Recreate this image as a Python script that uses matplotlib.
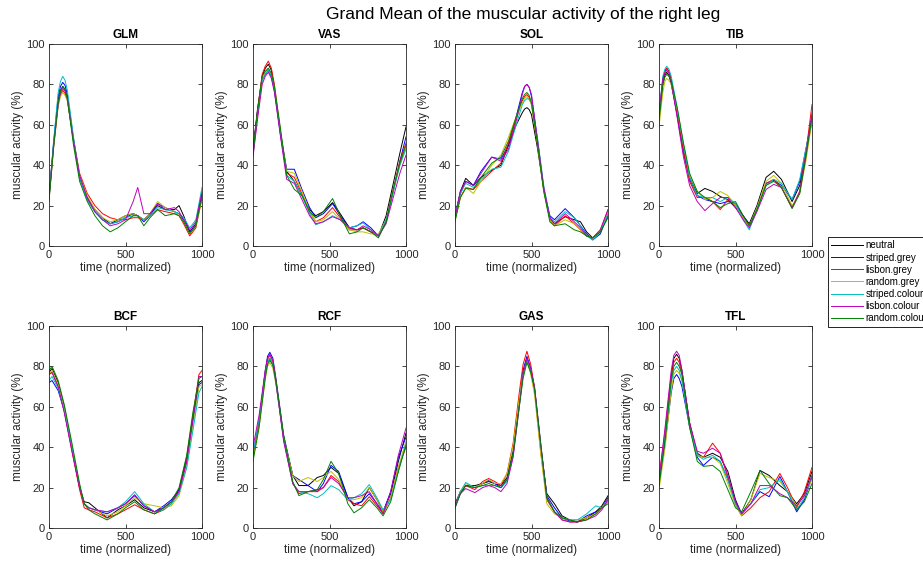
import matplotlib
matplotlib.use("Agg")
import matplotlib.pyplot as plt

plt.rcParams['font.family'] = ['Liberation Sans', 'DejaVu Sans']

## Conditions & colours ---------------------------------------------
conditions = ["neutral", "striped.grey", "lisbon.grey", "random.grey",
              "striped.colour", "lisbon.colour", "random.colour"]
colours = ["k", "b", "r", "y", "c", "m", "g"]

## Data, one row per condition --------------------------------------
glm_x = [0, 30, 60, 75, 90, 105, 120, 160, 200, 250, 300, 350, 400, 450, 500, 550, 580, 620, 660, 710, 760, 820, 850, 880, 920, 960, 1000]
glm = [
    [24, 50, 72, 77, 79, 77.5, 73, 52, 34, 24, 18, 14, 11, 13, 15, 16, 15, 13, 16, 20, 18, 18, 20, 15, 7, 11, 25],
    [24, 51, 74, 79, 81, 79.5, 75, 53, 34, 23, 17, 13, 11, 12, 14, 16, 15, 12, 15, 21, 19, 17, 16, 13, 7, 10, 26],
    [25, 50, 70, 75, 77, 75.5, 72, 53, 36, 26, 20, 16, 14, 13, 13, 14, 14, 13, 15, 18, 17, 16, 15, 11, 5, 9, 24],
    [23, 48, 69, 74, 76, 74.5, 72, 52, 35, 25, 18, 14, 12, 13, 15, 16, 15, 13, 16, 22, 19, 17, 15, 12, 6, 10, 23],
    [24, 52, 76, 81.5, 84, 82, 77, 54, 34, 23, 17, 13, 11, 12, 14, 15, 15, 13, 15, 19, 18, 17, 16, 14, 9, 13, 29],
    [23, 49, 70, 76, 78, 76.5, 73, 52, 35, 24, 17, 13, 10, 11, 13, 22, 29, 16, 16, 21, 18, 19, 17, 13, 8, 12, 27],
    [22, 49, 71, 77, 79, 77.5, 73, 50, 32, 22, 15, 10, 7, 9, 12, 15, 15, 10, 14, 18, 15, 16, 15, 12, 6, 10, 24],
]

vas_x = [0, 30, 60, 80, 100, 120, 140, 180, 220, 270, 320, 370, 410, 460, 520, 570, 630, 680, 720, 770, 820, 870, 920, 960, 1000]
vas = [
    [48, 68, 84, 88, 90, 87, 78, 55, 37, 32, 25, 18, 15, 17, 21.5, 16, 9, 8, 9, 7, 5, 15, 32, 46, 59],
    [47, 67, 82, 85, 87, 84, 77, 56, 38, 38, 28, 19, 14, 16, 21, 15, 9, 10, 12, 9, 5, 12, 28, 42, 54],
    [46, 67, 85, 89, 91.5, 88, 80, 56, 36, 34, 26, 17, 12, 14, 19, 14, 8, 8, 9, 7, 5, 13, 29, 42, 51],
    [45, 65, 82, 86, 88, 85, 78, 56, 37, 36, 27, 17, 12, 13, 17, 13, 8, 7, 7, 6, 6, 13, 28, 40, 49],
    [45, 65, 82, 85, 87, 84, 77, 55, 35, 32, 25, 16, 10.5, 12, 15, 13, 9, 10, 11.5, 8, 5, 13, 28, 40, 48],
    [44, 63, 80, 84, 86, 83, 76, 54, 33, 31, 23, 15, 11, 12, 14.5, 13, 9, 8, 10, 8, 5, 11, 25, 36, 45],
    [46, 67, 84, 86.5, 88, 85.5, 79, 58, 35, 28, 25, 17, 14, 17, 23.5, 15, 6, 7, 9, 7, 4, 12, 29, 41, 50],
]

sol_x = [0, 35, 70, 120, 170, 240, 300, 350, 400, 440, 455, 470, 485, 500, 540, 580, 620, 650, 720, 780, 820, 860, 900, 950, 1000]
sol = [
    [15, 27, 33.5, 30, 34, 37.5, 40, 50, 60, 66, 67.8, 68.5, 67.5, 65, 48, 28, 14, 11, 14.5, 13, 12, 7, 4, 7, 15],
    [14, 26, 32, 30, 37, 44, 43, 50, 64, 76, 79, 80, 78.5, 74, 52, 28, 15, 13, 18.5, 14, 10, 6, 3, 6, 16],
    [13, 24, 29, 28, 32, 37, 41, 51, 63, 72, 74, 75, 73.5, 70, 50, 28, 13, 10, 15, 11, 8, 5, 4, 8, 18],
    [13, 24, 29, 26, 32, 40, 45, 54, 64, 71, 73, 74, 72.5, 70, 50, 27, 13, 10, 13, 11, 8, 5, 4, 8, 16],
    [15, 26, 31, 29, 33, 38, 39, 47, 60, 70, 72, 73, 72.5, 71, 53, 30, 14, 12, 17, 14, 10, 5, 3, 7, 16],
    [14, 27, 32, 30, 36, 44, 42, 48, 62, 75, 79, 80, 78.5, 75, 52, 29, 14, 11, 16, 12, 9, 5, 4, 8, 18],
    [12, 24, 28.5, 28, 34, 41, 44, 52, 64, 73, 75, 76, 74.5, 71, 50, 27, 12, 10, 11, 8, 7, 5, 4, 7, 14],
]

tib_x = [0, 25, 38, 50, 65, 80, 120, 160, 200, 250, 300, 350, 400, 450, 500, 550, 590, 640, 700, 750, 800, 870, 920, 960, 1000]
tib = [
    [63, 80, 84.5, 86, 84.5, 80, 65, 48, 34, 26, 28.5, 27, 24.5, 23, 19, 15, 11, 20, 34, 37, 33, 22, 30, 45, 62],
    [64, 82, 86.5, 88, 86.5, 82, 64, 46, 33, 25, 23, 22, 21, 22, 21, 15, 10, 19, 31, 32.5, 30, 23, 32, 48, 64],
    [65, 82, 86.5, 88, 86.5, 82, 65, 47, 32, 24, 24, 22, 18, 23, 20, 14, 10, 18, 31, 33, 29, 19, 27, 46, 70],
    [59, 76, 81.5, 83, 82, 80, 67, 50, 35, 27, 23, 24, 27, 25, 20, 14, 10, 19, 32, 35, 31, 20, 26, 42, 62],
    [65, 84, 87.5, 89, 87.5, 84, 68, 50, 34, 25, 24, 24, 22, 24, 21, 13, 8, 18, 30, 33, 31, 23, 33, 48, 62],
    [66, 83, 85.5, 87, 85.5, 81, 63, 44, 30, 22, 17.5, 21, 24, 24, 19, 13, 9, 17, 28, 30.5, 29, 19, 27, 45, 66],
    [62, 80, 83.5, 85, 84, 82, 68, 51, 36, 27, 24, 22, 19, 21, 22, 15, 10, 18, 30, 32, 29, 18.5, 26, 44, 64],
]

bcf_x = [0, 20, 60, 100, 150, 200, 230, 260, 300, 380, 450, 500, 560, 620, 690, 750, 800, 850, 900, 940, 980, 1000]
bcf = [
    [77, 79, 72, 60, 40, 20, 13, 12.5, 10, 5, 9, 11, 14, 10, 8, 10, 13, 19, 35, 55, 72, 73],
    [72, 73, 68, 58, 39, 20, 12, 10, 9, 7, 10, 12, 16, 11, 8, 11, 14, 19, 33, 52, 71, 72],
    [76, 77, 70, 58, 38, 19, 10, 9, 8, 5, 7, 9, 11.5, 9, 7, 9, 12, 18, 33, 55, 76, 78],
    [76, 78, 71, 59, 40, 21, 12, 10, 9, 6, 8, 11, 15, 12, 11, 10, 11, 16, 30, 50, 70, 71],
    [73, 75, 69, 58, 40, 21, 12, 10, 9, 8, 10, 13, 18, 12, 8, 9, 12, 17, 30, 48, 67, 70],
    [76, 77, 70, 57, 38, 20, 12, 10, 9, 8, 10, 12, 16.5, 11, 8, 10, 13, 18, 33, 54, 75, 75],
    [78, 80, 73, 61, 42, 22, 12, 9, 7, 4, 7, 10, 13, 9, 7, 10, 13, 20, 36, 57, 74, 75],
]

rcf_x = [0, 40, 80, 95, 110, 130, 150, 200, 260, 300, 360, 420, 460, 510, 560, 620, 660, 710, 760, 810, 850, 900, 950, 1000]
rcf = [
    [35, 52, 76, 82, 84, 81, 72, 45, 26, 21, 21, 25, 26, 30, 27, 15, 11, 13, 20, 14, 8, 17, 33, 47],
    [36, 53, 78, 85, 87, 84, 74, 46, 26, 24, 21, 18, 22, 31, 28, 15, 12, 13, 17, 12, 8, 18, 35, 45],
    [35, 52, 77, 83.5, 85.5, 82.5, 73, 44, 22, 17, 18, 18, 20, 26, 23, 14, 12, 11, 15.5, 11, 7, 15, 30, 40],
    [34, 50, 74, 80, 82, 79, 71, 45, 26, 23, 25, 23, 25, 28, 24, 14, 14, 15, 20, 14, 8, 15, 30, 43],
    [37, 54, 77, 82, 84, 81, 72, 44, 22, 18, 17, 15, 17, 21, 19, 14, 15, 17, 21.5, 15, 9, 14, 28, 42],
    [40, 56, 78, 84, 86, 83, 72, 43, 22, 18, 18, 19, 20, 25, 22, 15, 15, 16, 18, 12, 7, 18, 36, 49.5],
    [33, 50, 74, 81, 83, 80.5, 73, 46, 23, 16, 18, 19, 24, 33, 27, 12, 7.5, 10, 14, 10, 6, 13, 28, 41],
]

gas_x = [0, 35, 70, 130, 180, 220, 260, 300, 340, 380, 420, 445, 470, 495, 520, 560, 600, 650, 700, 750, 800, 860, 920, 960, 1000]
gas = [
    [11, 17, 21, 21, 22, 23, 22, 21, 25, 38, 62, 77, 84, 78, 68, 40, 17, 12, 6, 4, 3, 5, 8, 11, 16],
    [12, 18, 21, 20, 22, 23.5, 22, 20, 24, 37, 62, 78, 85, 79, 69, 41, 16, 10, 5, 3.5, 3, 6, 8, 10, 15],
    [11, 18, 21, 19, 23, 24.5, 23, 21, 27, 42, 67, 81, 87.5, 81, 69, 38, 14, 8, 4, 3, 3, 5, 7, 10, 14],
    [10, 18, 22, 20, 22, 24, 22, 22, 27, 41, 64, 76, 83, 76, 66, 37, 12, 7, 5, 4, 4, 5, 7, 10, 14],
    [10, 18, 22.5, 20, 21, 21, 21, 20, 23, 36, 60, 76, 83.5, 78, 69, 41, 15, 8, 5, 4, 4, 7, 11, 10, 13],
    [10, 17, 19.5, 17.5, 20, 21, 20, 18, 22, 35, 60, 76, 84, 79, 70, 42, 15, 8, 4, 3, 3, 4, 6, 9, 14],
    [10, 17, 21, 20, 21, 22, 21, 20, 24, 37, 60, 74, 82, 77, 69, 42, 15, 8, 5, 4, 3, 4, 7, 10, 12],
]

tfl_x = [0, 40, 80, 97, 115, 132, 150, 200, 250, 290, 350, 400, 450, 500, 540, 600, 660, 720, 790, 840, 900, 950, 1000]
tfl = [
    [22, 45, 75, 84, 86, 84, 78, 52, 37, 35, 37, 35, 28, 14, 7, 14, 28.5, 26, 21, 18, 12, 17, 28],
    [22, 42, 67, 74, 76, 74, 70, 50, 35, 31, 35, 33, 24, 13, 7, 12, 18, 15.5, 25.5, 18, 8, 14, 25],
    [25, 48, 76, 82, 84, 82, 76, 52, 36, 35, 42, 37, 25, 12, 6, 10, 15, 18, 27, 20, 10, 18, 30],
    [19, 40, 68, 76, 78, 76.5, 73, 50, 36, 35, 35, 32, 22, 11, 6, 14, 27, 25, 23, 18, 11, 16, 24],
    [23, 46, 72, 78, 80, 78, 73, 50, 36, 34, 36, 33, 24, 12, 7, 12, 19, 20, 24, 18, 9, 15, 26],
    [24, 50, 78, 85.5, 87.5, 85.5, 78, 52, 38, 37, 39.5, 37, 26, 13, 7, 12, 21, 21, 17, 15, 11, 16, 26],
    [21, 44, 73, 80, 82, 80, 76, 50, 33, 30.5, 31, 28, 19, 10, 8, 18, 28.5, 22, 16, 15, 9, 13, 22],
]

muscles = ["GLM", "VAS", "SOL", "TIB", "BCF", "RCF", "GAS", "TFL"]
xs = [glm_x, vas_x, sol_x, tib_x, bcf_x, rcf_x, gas_x, tfl_x]
ys = [glm, vas, sol, tib, bcf, rcf, gas, tfl]

## Figure -----------------------------------------------------------
W, H = 923, 563
fig = plt.figure(figsize=(W / 100, H / 100), dpi=100)
axcol = "#262626"

lefts = [49, 253, 455, 659]
tops = [44, 326]
aw, ah = 153, 202

axes = []
for i in range(8):
    r, c = divmod(i, 4)
    ax = fig.add_axes([lefts[c] / W, 1 - (tops[r] + ah) / H, aw / W, ah / H])
    for k in range(7):
        ax.plot(xs[i], ys[i][k], color=colours[k], lw=0.7, label=conditions[k])
    ax.set_xlim(0, 1000)
    ax.set_ylim(0, 100)
    ax.set_xticks([0, 500, 1000])
    ax.set_yticks([0, 20, 40, 60, 80, 100])
    ax.tick_params(direction="in", length=3, width=0.6, labelsize=8,
                   colors=axcol, top=True, right=True, pad=3)
    for s in ax.spines.values():
        s.set_color(axcol)
        s.set_linewidth(0.6)
    ax.set_title(muscles[i], fontsize=8.5, fontweight="bold", color="k", pad=4)
    ax.set_xlabel("time (normalized)", fontsize=8.5, color=axcol, labelpad=1)
    ax.set_ylabel("muscular activity (%)", fontsize=8.5, color=axcol, labelpad=2)
    axes.append(ax)

fig.text(523 / W, 1 - 14 / H, "Grand Mean of the muscular activity of the right leg",
         ha="center", va="center", fontsize=12.5, color="k")

# legend sits on the right edge, partly cut off like the original
h, l = axes[0].get_legend_handles_labels()
leg = fig.legend(h, l, loc="upper left", bbox_to_anchor=(828 / W, 1 - 237 / H),
                 fontsize=7, frameon=True, fancybox=False, framealpha=1,
                 edgecolor="k", handlelength=3.2, handletextpad=0.3,
                 labelspacing=0.22, borderpad=0.35, borderaxespad=0)
leg.get_frame().set_linewidth(0.6)

fig.savefig("out.png", dpi=100)
